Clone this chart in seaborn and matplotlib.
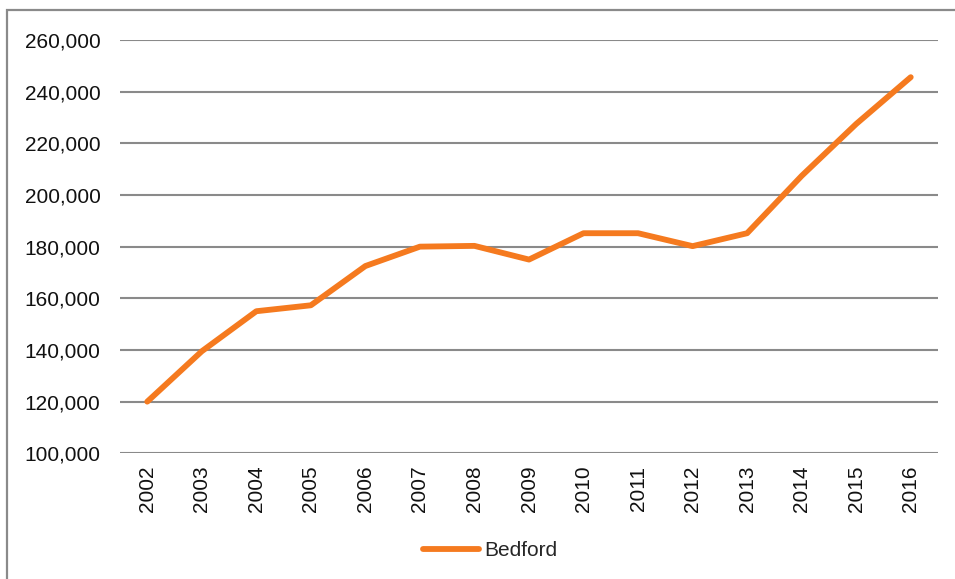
import matplotlib
matplotlib.use("Agg")
import matplotlib.pyplot as plt
import matplotlib.ticker as mticker
from matplotlib.patches import Rectangle
import pandas as pd
import seaborn as sns

years = ["2002", "2003", "2004", "2005", "2006", "2007", "2008", "2009",
         "2010", "2011", "2012", "2013", "2014", "2015", "2016"]
bedford = [120000, 139500, 155000, 157300, 172500, 180000, 180300, 175000,
           185200, 185200, 180200, 185200, 207400, 227500, 245600]
y_ticks = [100000, 120000, 140000, 160000, 180000, 200000, 220000, 240000, 260000]

df = pd.DataFrame({"year": years, "value": bedford})

sns.set_style("white")
plt.rcParams["font.family"] = ["Liberation Sans", "DejaVu Sans"]

W, H = 955, 579
fig = plt.figure(figsize=(W / 100, H / 100), dpi=100)
ax = fig.add_axes([120 / W, 1 - 453.3 / H, (938 - 120) / W, (453.3 - 40) / H])

# outer chart frame (cut off at right and bottom in the reference)
fig.patches.append(Rectangle((7 / W, -0.1), 1.2, 1.1 - 10 / H, transform=fig.transFigure,
                             fill=False, edgecolor="#8a8a8a", linewidth=1.6))

sns.lineplot(data=df, x="year", y="value", ax=ax, color="#F57A1F", linewidth=4.2,
             label="Bedford", solid_capstyle="round", solid_joinstyle="round")

ax.set_xlim(-0.5, len(years) - 0.5)
ax.set_ylim(y_ticks[0], y_ticks[-1])
ax.set_yticks(y_ticks)
ax.yaxis.set_major_formatter(mticker.FuncFormatter(lambda v, p: f"{int(v):,}"))
ax.grid(axis="y", color="#8a8a8a", linewidth=1.5)
ax.set_axisbelow(True)
for s in ax.spines.values():
    s.set_visible(False)
ax.tick_params(axis="y", length=0, pad=14, labelsize=15, labelcolor="#111111")
ax.tick_params(axis="x", length=0, pad=9, labelsize=15, labelrotation=90, labelcolor="#111111")
ax.set_xlabel("")
ax.set_ylabel("")
ax.get_legend().remove()

handles, labels = ax.get_legend_handles_labels()
fig.legend(handles, labels, loc="center", bbox_to_anchor=(490 / W, 1 - 551 / H),
           frameon=False, fontsize=15, handlelength=2.7, handletextpad=0.25)

fig.savefig("out.png", dpi=100)
